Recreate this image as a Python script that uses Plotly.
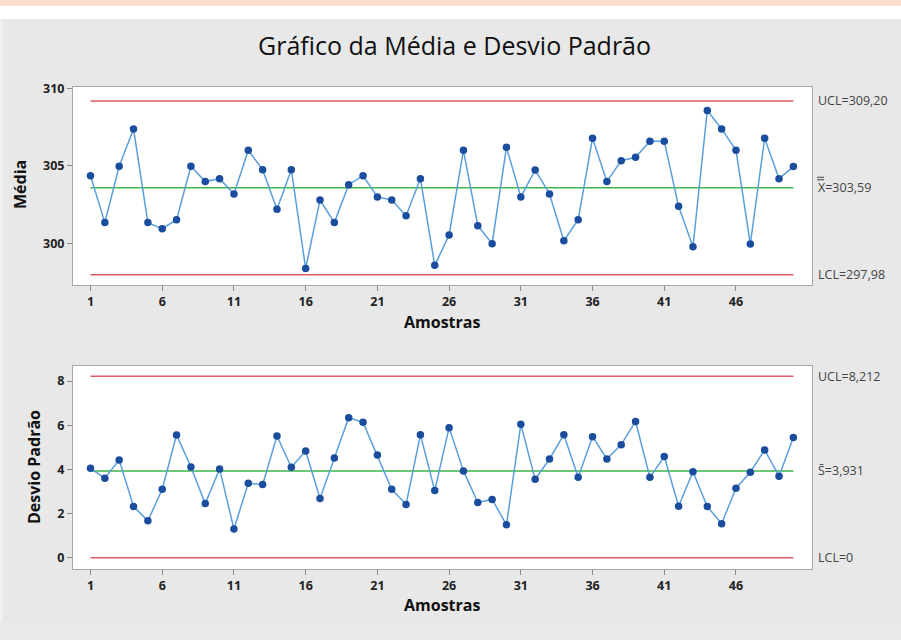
import plotly.graph_objects as go

samples = list(range(1, 51))
media = [304.37, 301.34, 304.98, 307.39, 301.34, 300.95, 301.53, 304.98, 303.99, 304.18,
         303.19, 306.01, 304.76, 302.20, 304.76, 298.38, 302.80, 301.34, 303.79, 304.37,
         303.00, 302.80, 301.79, 304.18, 298.58, 300.54, 306.01, 301.14, 299.98, 306.21,
         303.00, 304.74, 303.19, 300.17, 301.53, 306.79, 303.99, 305.34, 305.56, 306.59,
         306.59, 302.39, 299.78, 308.58, 307.39, 306.01, 299.96, 306.79, 304.18, 304.96]
desvio = [4.05, 3.60, 4.43, 2.32, 1.67, 3.10, 5.56, 4.11, 2.45, 4.02,
          1.30, 3.37, 3.31, 5.51, 4.10, 4.83, 2.68, 4.52, 6.34, 6.13,
          4.65, 3.10, 2.41, 5.57, 3.04, 5.89, 3.93, 2.50, 2.64, 1.49,
          6.04, 3.55, 4.47, 5.57, 3.64, 5.48, 4.47, 5.12, 6.17, 3.64,
          4.58, 2.33, 3.89, 2.32, 1.54, 3.15, 3.87, 4.88, 3.69, 5.44]

xbar_ucl, xbar_cl, xbar_lcl = 309.20, 303.59, 297.98
s_ucl, s_cl, s_lcl = 8.212, 3.931, 0.0
xbar_labels = ["UCL=309,20", "X=303,59", "LCL=297,98"]
s_labels = ["UCL=8,212", "S\u0304=3,931", "LCL=0"]
x_ticks = [1, 6, 11, 16, 21, 26, 31, 36, 41, 46]

W, H = 901, 640
RED = "#dc5a60"
GREEN = "#3db54a"
LINE = "#5a9fdc"
MARK = "#1b4d9e"
FONT = "Open Sans"

fig = go.Figure()

def add_chart(vals, ucl, cl, lcl, xa, ya):
    n0, n1 = samples[0], samples[-1]
    for yv, col in [(ucl, RED), (lcl, RED), (cl, GREEN)]:
        fig.add_trace(go.Scatter(x=[n0, n1], y=[yv, yv], mode="lines",
                                 line=dict(color=col, width=1.5), xaxis=xa, yaxis=ya,
                                 hoverinfo="skip"))
    fig.add_trace(go.Scatter(x=samples, y=vals, mode="lines+markers",
                             line=dict(color=LINE, width=1.5),
                             marker=dict(color=MARK, size=7.5),
                             xaxis=xa, yaxis=ya))

add_chart(media, xbar_ucl, xbar_cl, xbar_lcl, "x", "y")
add_chart(desvio, s_ucl, s_cl, s_lcl, "x2", "y2")

px_x = lambda p: p / W
px_y = lambda p: 1 - p / H

tickfont = dict(family=FONT, size=12.5, color="#222222", weight="bold")
axis_common = dict(showgrid=False, zeroline=False, showline=True, linecolor="#a8a8a8",
                   linewidth=1, mirror=True, ticks="outside", ticklen=5,
                   tickcolor="#8a8a8a", automargin=False, tickfont=tickfont)

fig.update_layout(
    width=W, height=H,
    margin=dict(l=0, r=0, t=0, b=0),
    paper_bgcolor="#e8e8e8", plot_bgcolor="#ffffff",
    showlegend=False,
    font=dict(family=FONT),
    xaxis=dict(domain=[px_x(73), px_x(812)], range=[-0.22, 51.3], anchor="y",
               tickvals=x_ticks, **axis_common),
    yaxis=dict(domain=[px_y(285), px_y(87)], range=[297.31, 310.1], anchor="x",
               tickvals=[300, 305, 310], **axis_common),
    xaxis2=dict(domain=[px_x(73), px_x(812)], range=[-0.22, 51.3], anchor="y2",
                tickvals=x_ticks, **axis_common),
    yaxis2=dict(domain=[px_y(569), px_y(366)], range=[-0.51, 8.68], anchor="x2",
                tickvals=[0, 2, 4, 6, 8], **axis_common),
)

# background bands
fig.add_shape(type="rect", xref="paper", yref="paper", x0=0, x1=1, y0=px_y(6), y1=1,
              fillcolor="#fadfcf", line=dict(width=0), layer="below")
fig.add_shape(type="rect", xref="paper", yref="paper", x0=0, x1=1, y0=px_y(19), y1=px_y(6),
              fillcolor="#ffffff", line=dict(width=0), layer="below")
fig.add_shape(type="rect", xref="paper", yref="paper", x0=0, x1=px_x(3), y0=0, y1=px_y(19),
              fillcolor="#f0f0f0", line=dict(width=0), layer="below")
fig.add_shape(type="rect", xref="paper", yref="paper", x0=0, x1=1, y0=0, y1=px_y(622),
              fillcolor="#ebe8e8", line=dict(width=0), layer="below")

# double bar over the X of the grand-mean label (drawn as two short strokes)
for off in (8, 10.5):
    fig.add_shape(type="line", xref="paper", yref="y", ysizemode="pixel", yanchor=xbar_cl,
                  x0=px_x(817), x1=px_x(824), y0=off, y1=off,
                  line=dict(color="#444444", width=1))

ann = []
ann.append(dict(text="Gráfico da Média e Desvio Padrão", x=px_x(455), y=px_y(45),
                xref="paper", yref="paper", showarrow=False, xanchor="center", yanchor="middle",
                font=dict(family=FONT, size=25, color="#111111")))
for yv, t in zip([xbar_ucl, xbar_cl, xbar_lcl], xbar_labels):
    ann.append(dict(text=t, x=px_x(816), y=yv, xref="paper", yref="y", showarrow=False,
                    xanchor="left", yanchor="middle",
                    font=dict(family=FONT, size=12.5, color="#444444")))
for yv, t in zip([s_ucl, s_cl, s_lcl], s_labels):
    ann.append(dict(text=t, x=px_x(816), y=yv, xref="paper", yref="y2", showarrow=False,
                    xanchor="left", yanchor="middle",
                    font=dict(family=FONT, size=12.5, color="#444444")))
for yy in [322, 605]:
    ann.append(dict(text="<b>Amostras</b>", x=px_x(442), y=px_y(yy), xref="paper", yref="paper",
                    showarrow=False, xanchor="center", yanchor="middle",
                    font=dict(family=FONT, size=16, color="#111111")))
ann.append(dict(text="<b>Média</b>", x=px_x(20), y=px_y(185), xref="paper", yref="paper",
                showarrow=False, textangle=-90, xanchor="center", yanchor="middle",
                font=dict(family=FONT, size=16, color="#111111")))
ann.append(dict(text="<b>Desvio Padrão</b>", x=px_x(34), y=px_y(467), xref="paper", yref="paper",
                showarrow=False, textangle=-90, xanchor="center", yanchor="middle",
                font=dict(family=FONT, size=16, color="#111111")))
fig.update_layout(annotations=ann)

fig.write_html("out.html", config={"displayModeBar": False},
               post_script="document.body.style.margin='0';")
